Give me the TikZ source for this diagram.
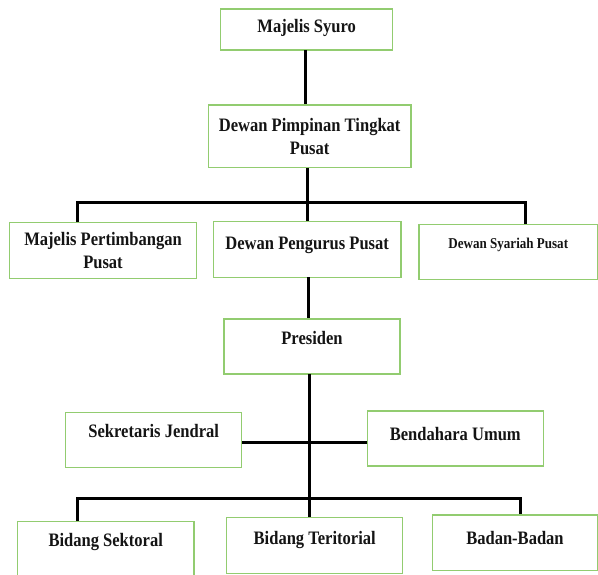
\documentclass[tikz,border=0pt]{standalone}
\usepackage{fontspec}
\newfontfamily\orgfont{Liberation Serif}[FakeStretch=0.87]
\definecolor{boxgreen}{RGB}{146,204,112}
\definecolor{inkblack}{RGB}{20,20,20}
\usetikzlibrary{
  positioning
}

\begin{document}
\begin{tikzpicture}[
  x=1pt, y=-1pt,
  unit/.style = {shape=rectangle, draw=boxgreen, line width=1.2pt,
    inner xsep=2pt, inner ysep=0pt, minimum width=176pt,
    align=center, text=inkblack,
    font=\orgfont\bfseries\fontsize{19}{23.3}\selectfont},
  oneline/.style = {unit, text height=26pt, text depth=29pt},
  link/.style = {line width=3pt, black}]
  \useasboundingbox (0,0) rectangle (598,574);
  % top of the chart
  \node[oneline, minimum width=172pt, text height=23.7pt, text depth=17.3pt]
    (syuro) at (306.7,29.5) {Majelis Syuro};
  \node[unit, minimum width=202.7pt, minimum height=62.7pt]
    (dptp) at (309.7,136.3) {Dewan Pimpinan Tingkat\\Pusat};
  % second row
  \node[unit, minimum width=187.4pt, minimum height=55.6pt]
    (mpp) at (103,250.5) {Majelis Pertimbangan\\Pusat};
  \node[oneline, minimum width=187.7pt, text height=27.7pt, text depth=27.9pt]
    (dpp) at (307.2,249.5) {Dewan Pengurus Pusat};
  \node[oneline, minimum width=178.5pt, text height=24pt, text depth=31pt,
    font=\orgfont\bfseries\fontsize{15}{18}\selectfont]
    (dsp) at (508.3,251.8) {Dewan Syariah Pusat};
  % executive
  \node[oneline, text height=25.4pt, text depth=29.6pt]
    (presiden) at (312,346.5) {Presiden};
  \node[oneline, text height=25pt, text depth=29.6pt]
    (sekjen) at (153.7,440) {Sekretaris Jendral};
  \node[oneline, text height=29.4pt, text depth=25.6pt]
    (bendum) at (455.3,438.5) {Bendahara Umum};
  % bottom row
  \node[oneline, minimum width=176.7pt, text height=24.3pt, text depth=30.7pt]
    (sektoral) at (105.7,549.2) {Bidang Sektoral};
  \node[oneline, text height=26.7pt, text depth=28.9pt]
    (teritorial) at (314.7,545.5) {Bidang Teritorial};
  \node[oneline, minimum width=165.4pt, text height=29.4pt, text depth=26.3pt]
    (badan) at (515,542.9) {Badan-Badan};

  \coordinate (upl) at (77,202);
  \coordinate (upr) at (525,202);
  \coordinate (lowl) at (77,498);
  \coordinate (lowr) at (520,498);

  \draw[link] (305,50) coordinate (s1) -- (s1 |- dptp.north);
  \draw[link] (307,167.7) coordinate (s2) -- (s2 |- dpp.north);
  \draw[link] (upl |- mpp.north) -- (upl) -- (upr) -- (upr |- dsp.north);
  \draw[link] (308,277.3) coordinate (s3) -- (s3 |- presiden.north);
  \draw[link] (309,374) coordinate (s4) -- (s4 |- teritorial.north);
  \draw[link] (sekjen.east |- 0,442) -- (bendum.west |- 0,442);
  \draw[link] (lowl |- sektoral.north) -- (lowl) -- (lowr) -- (lowr |- badan.north);
\end{tikzpicture}
\end{document}
